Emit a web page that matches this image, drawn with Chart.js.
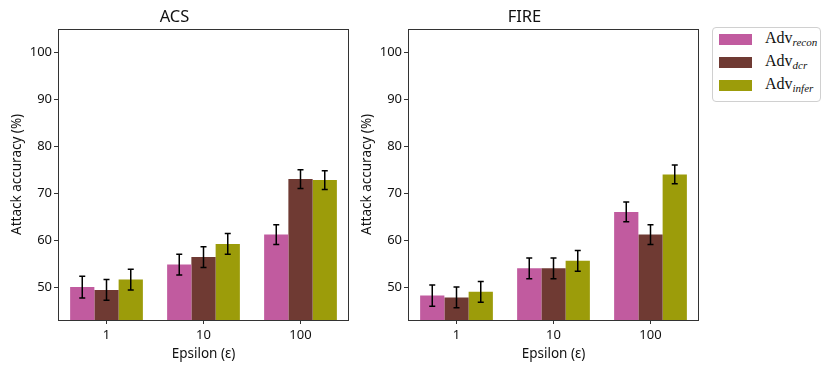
<!DOCTYPE html>
<html>
<head>
<meta charset="utf-8">
<script src="https://cdn.jsdelivr.net/npm/chart.js@4"></script>
<style>
  body { margin: 0; background: #fff; }
  #wrap { position: relative; width: 831px; height: 371px; }
  canvas { position: absolute; top: 0; }
  #c1 { left: 0; }
  #c2 { left: 350px; }
  .legend {
    position: absolute; left: 712px; top: 27px; width: 109px; height: 75px;
    border: 1px solid #d0d0d0; border-radius: 4px; box-sizing: border-box;
    font-family: "Liberation Serif", serif; font-size: 16px; color: #111;
  }
  .legend .item { position: absolute; left: 6px; height: 12px; }
  .legend .patch { position: absolute; left: 0; top: 0; width: 33px; height: 11px; }
  .legend .lbl { position: absolute; left: 46px; top: -6px; white-space: nowrap; line-height: 20px; }
  .legend sub { font-style: italic; font-size: 11px; vertical-align: -3px; }
</style>
</head>
<body>
<div id="wrap">
  <canvas id="c1" width="355" height="371"></canvas>
  <canvas id="c2" width="355" height="371"></canvas>
  <div class="legend" id="legend"></div>
</div>
<script>
const epsilons = ['1', '10', '100'];
const seriesNames = ['recon', 'dcr', 'infer'];
const seriesColors = ['#c15b9f', '#6f3a33', '#9c9c0a'];
const yTicks = [50, 60, 70, 80, 90, 100];

// ACS panel
const acsRecon = [50.0, 54.8, 61.2];
const acsDcr = [49.4, 56.4, 73.0];
const acsInfer = [51.6, 59.2, 72.8];
const acsReconErr = [2.3, 2.2, 2.1];
const acsDcrErr = [2.2, 2.2, 2.0];
const acsInferErr = [2.2, 2.2, 2.0];

// FIRE panel
const fireRecon = [48.2, 54.0, 66.0];
const fireDcr = [47.8, 54.0, 61.2];
const fireInfer = [49.0, 55.6, 74.0];
const fireReconErr = [2.25, 2.2, 2.1];
const fireDcrErr = [2.2, 2.2, 2.1];
const fireInferErr = [2.2, 2.2, 2.0];

const FONT = '"Noto Sans", sans-serif';

// error bars drawn from the y scale
const errorBars = {
  id: 'errorBars',
  afterDatasetsDraw(chart) {
    const ctx = chart.ctx;
    const y = chart.scales.y;
    ctx.save();
    ctx.strokeStyle = '#000';
    ctx.lineWidth = 1.5;
    chart.data.datasets.forEach((ds, i) => {
      const meta = chart.getDatasetMeta(i);
      meta.data.forEach((bar, j) => {
        const v = ds.data[j], e = ds.errors[j];
        const top = y.getPixelForValue(v + e);
        const bot = y.getPixelForValue(v - e);
        ctx.beginPath();
        ctx.moveTo(bar.x, top); ctx.lineTo(bar.x, bot);
        ctx.moveTo(bar.x - 3, top); ctx.lineTo(bar.x + 3, top);
        ctx.moveTo(bar.x - 3, bot); ctx.lineTo(bar.x + 3, bot);
        ctx.stroke();
      });
    });
    ctx.restore();
  }
};

// axes frame
const frame = {
  id: 'frame',
  afterDraw(chart) {
    const a = chart.chartArea, ctx = chart.ctx;
    ctx.save();
    ctx.strokeStyle = '#333';
    ctx.lineWidth = 1;
    ctx.strokeRect(Math.round(a.left) + 0.5, Math.round(a.top) + 0.5,
      Math.round(a.right - a.left) - 1, Math.round(a.bottom - a.top));
    ctx.restore();
  }
};

function makePanel(id, title, vals, errs) {
  new Chart(document.getElementById(id), {
    type: 'bar',
    data: {
      labels: epsilons,
      datasets: seriesNames.map((n, i) => ({
        label: 'Adv ' + n,
        data: vals[i],
        errors: errs[i],
        backgroundColor: seriesColors[i],
        borderWidth: 0,
        categoryPercentage: 0.75,
        barPercentage: 1.0
      }))
    },
    options: {
      responsive: false,
      animation: false,
      devicePixelRatio: 1,
      layout: { padding: { left: 0, right: 6, top: 0, bottom: 0 } },
      plugins: {
        legend: { display: false },
        tooltip: { enabled: false },
        title: {
          display: true, text: title, color: '#111',
          font: { family: FONT, size: 16.5, weight: 'normal' },
          padding: { top: 7, bottom: 2 }
        }
      },
      scales: {
        x: {
          grid: { display: true, drawOnChartArea: false, drawTicks: true, tickLength: 4, color: '#333', offset: false },
          border: { display: false },
          ticks: { color: '#111', font: { family: FONT, size: 13 }, padding: 3 },
          title: {
            display: true, text: 'Epsilon (ε)', color: '#111',
            font: { family: FONT, size: 13.5 }, padding: { top: 0, bottom: 9 }
          },
          afterFit(s) { s.height = 51; }
        },
        y: {
          min: 43, max: 105,
          afterBuildTicks(s) { s.ticks = yTicks.map(v => ({ value: v })); },
          grid: { display: true, drawOnChartArea: false, drawTicks: true, tickLength: 4, color: '#333' },
          border: { display: false },
          ticks: { color: '#111', font: { family: FONT, size: 13 }, padding: 2 },
          title: {
            display: true, text: 'Attack accuracy (%)', color: '#111',
            font: { family: FONT, size: 13.5 }, padding: { top: 9, bottom: 0 }
          },
          afterFit(s) { s.width = 58; }
        }
      }
    },
    plugins: [errorBars, frame]
  });
}

makePanel('c1', 'ACS', [acsRecon, acsDcr, acsInfer], [acsReconErr, acsDcrErr, acsInferErr]);
makePanel('c2', 'FIRE', [fireRecon, fireDcr, fireInfer], [fireReconErr, fireDcrErr, fireInferErr]);

// legend
const legend = document.getElementById('legend');
seriesNames.forEach((n, i) => {
  const item = document.createElement('div');
  item.className = 'item';
  item.style.top = (6 + i * 23) + 'px';
  item.innerHTML = `<div class="patch" style="background:${seriesColors[i]}"></div>` +
    `<div class="lbl">Adv<sub>${n}</sub></div>`;
  legend.appendChild(item);
});
</script>
</body>
</html>
